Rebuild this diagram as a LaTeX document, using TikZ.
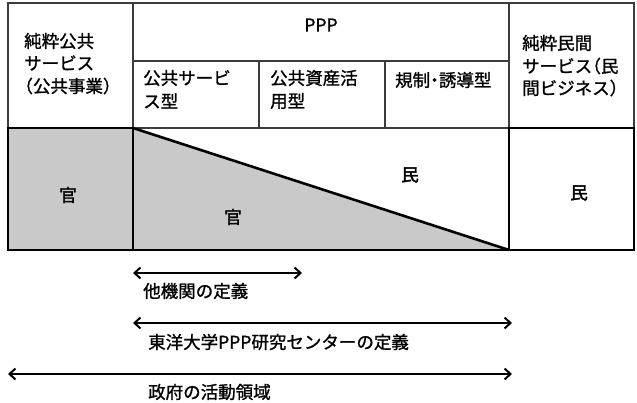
\documentclass[tikz,border=0pt]{standalone}
\usepackage{fontspec}
\newfontfamily\jp[FakeBold=1.2]{Noto Sans CJK JP}
\newfontfamily\jph[FakeBold=1.2,RawFeature=+halt]{Noto Sans CJK JP}
\newfontfamily\jpb[FakeBold=2.2]{Noto Sans CJK JP}
\usetikzlibrary{arrows.meta}
\definecolor{fillg}{RGB}{200,201,200}
\definecolor{gridc}{RGB}{60,60,60}
\begin{document}
\begin{tikzpicture}[x=1pt,y=-1pt,
  txt/.style={inner sep=0pt, font=\jp\fontsize{17.5}{22}\selectfont},
  lt/.style={txt, anchor=west},
  lth/.style={lt, font=\jph\fontsize{17.5}{22}\selectfont},
  big/.style={txt, font=\jpb\fontsize{17.5}{22}\selectfont},
  thinline/.style={draw=gridc, line width=1.1pt},
  thickline/.style={draw=black, line width=2.6pt},
  arr/.style={line width=2pt, {Straight Barb[length=6pt,width=11pt]}-{Straight Barb[length=6pt,width=11pt]}}]
\useasboundingbox (0,0) rectangle (637,403);
% top grid
\draw[thinline] (8,3) rectangle (634,128);
\draw[thinline] (133,3) -- (133,128);
\draw[thinline] (509,3) -- (509,128);
\draw[thinline] (133,61) -- (509,61);
\draw[thinline] (259,61) -- (259,128);
\draw[thinline] (385,61) -- (385,128);
% lower part
\fill[fillg] (133,128) -- (509,250) -- (133,250) -- cycle;
\draw[thickline, fill=fillg] (8,128) rectangle (133,250);
\draw[thickline] (509,128) rectangle (634,250);
\draw[thickline] (133,250) -- (509,250);
\draw[thickline] (133,128) -- (509,250);
% header texts
\node[lt] (c1a) at (24,41) {純粋公共};
\node[lt] (c1b) at (24,63) {サービス};
\node[lth] (c1c) at (24,86) {（公共事業）};
\node[txt] (ppp) at (321,25) {PPP};
\node[lt] (s1a) at (143,78) {公共サービ};
\node[lt] (s1b) at (143,101) {ス型};
\node[lt] (s2a) at (270,78) {公共資産活};
\node[lt] (s2b) at (270,101) {用型};
\node[lth] (s3a) at (395,80) {規制・誘導型};
\node[lt] (c3a) at (522,43) {純粋民間};
\node[lth] (c3b) at (522,66) {サービス（民};
\node[lth] (c3c) at (522,88) {間ビジネス）};
% lower texts
\node[big] (kan1) at (68,195) {官};
\node[big] (kan2) at (233,217) {官};
\node[big] (min1) at (410,175) {民};
\node[big] (min2) at (579,193) {民};
% arrows
\coordinate (a1s) at (133,273);
\coordinate (a1e) at (302,273);
\coordinate (a2s) at (133,323);
\coordinate (a2e) at (512,323);
\coordinate (a3s) at (8,374);
\coordinate (a3e) at (512,374);
\draw[arr] (a1s) -- (a1e);
\draw[arr] (a2s) -- (a2e);
\draw[arr] (a3s) -- (a3e);
\node[lt] (l1) at (143,291) {他機関の定義};
\node[lt] (l2) at (148,342) {東洋大学PPP研究センターの定義};
\node[lt] (l3) at (148,392) {政府の活動領域};
\end{tikzpicture}
\end{document}
